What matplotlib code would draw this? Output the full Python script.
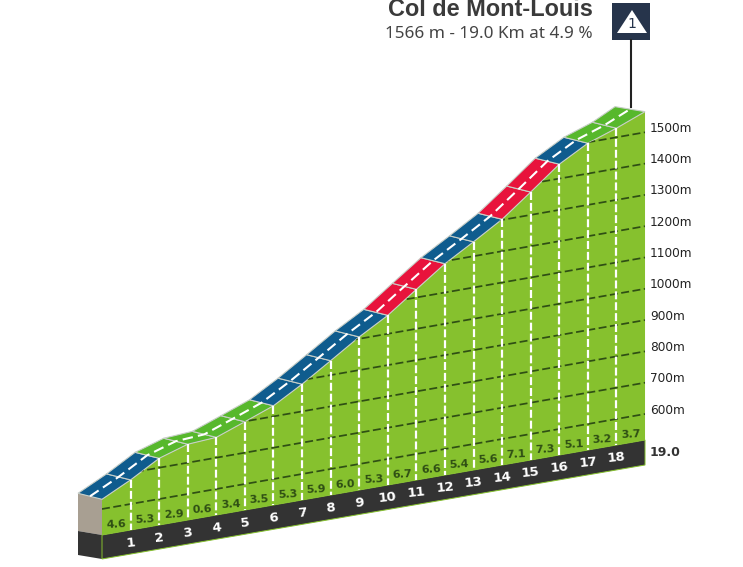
import numpy as np
import matplotlib.pyplot as plt
from matplotlib.patches import Polygon

km = np.arange(0, 20)
elev = [631, 677, 730, 759, 765, 799, 834, 887, 946, 1006, 1059, 1126, 1192, 1246, 1302, 1373, 1446, 1497, 1529, 1566]
grad = [4.6, 5.3, 2.9, 0.6, 3.4, 3.5, 5.3, 5.9, 6.0, 5.3, 6.7, 6.6, 5.4, 5.6, 7.1, 7.3, 5.1, 3.2, 3.7]
road_class = ['b', 'b', 'g', 'g', 'g', 'g', 'b', 'b', 'b', 'b', 'r', 'r', 'b', 'b', 'r', 'r', 'b', 'g', 'g']
grid_elev = [600, 700, 800, 900, 1000, 1100, 1200, 1300, 1400, 1500]
km_labels = list(range(1, 19))

road_col = {'b': '#0f5c8e', 'g': '#57b82c', 'r': '#e8133c'}
area_col = '#86c12e'
dark = '#333333'


def px(k):
    return 102 + 28.58 * np.asarray(k)


def base(k):
    return 535 - 5.0 * np.asarray(k)


def profile_y(k, e):
    return 509 - 5.0 * np.asarray(k) - (np.asarray(e) - 600) * 0.313


fig = plt.figure(figsize=(7.43, 5.67), dpi=100)
ax = fig.add_axes([0, 0, 1, 1])
ax.set_xlim(0, 743)
ax.set_ylim(567, 0)
ax.axis('off')

fx = px(km)
fy = profile_y(km, elev)
# back edge of the road, it opens up a bit at the summit
bx = fx - 24.0
by = fy - 6.0
bx[-1] = fx[-1] - 30
by[-1] = fy[-1] - 5

# left wall and the dark km band
ax.add_patch(Polygon([(fx[0], fy[0]), (bx[0], by[0]), (bx[0], base(0) - 4), (fx[0], base(0))],
                     fc='#a89f92', ec='none'))
ax.add_patch(Polygon([(fx[0], base(0)), (bx[0], base(0) - 4), (bx[0], base(0) + 20), (fx[0], base(0) + 24)],
                     fc=dark, ec='none'))
ax.add_patch(Polygon([(fx[0], base(0)), (fx[-1], base(19)), (fx[-1], base(19) + 25), (fx[0], base(0) + 24)],
                     fc=dark, ec=area_col, lw=0.7))

# green area
area = Polygon(list(zip(fx, fy)) + [(fx[-1], base(19)), (fx[0], base(0))], fc=area_col, ec='none')
ax.add_patch(area)

# altitude grid
for e in grid_elev:
    ln, = ax.plot(px([0, 19]), profile_y(np.array([0, 19]), e), color='#2f4f14', lw=1.25,
                  dashes=(4.6, 2))
    ln.set_clip_path(area)
    ax.text(650, profile_y(19, e) - 4, '%dm' % e, fontsize=8.7, color='#222222',
            va='center', ha='left', family='DejaVu Sans')

# km dashes
for k in km_labels:
    ax.plot([px(k), px(k)], [profile_y(k, elev[k]), base(k)], color='white', lw=1.6, dashes=(3.6, 1.3))

# road pieces
for i, c in enumerate(road_class):
    ax.add_patch(Polygon([(fx[i], fy[i]), (fx[i + 1], fy[i + 1]), (bx[i + 1], by[i + 1]), (bx[i], by[i])],
                         fc=road_col[c], ec='#c8cfc8', lw=0.8))
ax.plot((fx + bx) / 2, (fy + by) / 2, color='white', lw=1.5, dashes=(5, 2.5))

# gradient and km labels
for i, g in enumerate(grad):
    ax.text(px(i + 0.5), base(i + 0.5) - 8, '%.1f' % g, fontsize=8, fontweight='bold', color='#2f4f14',
            ha='center', va='center', rotation=3)
for k in km_labels:
    ax.text(px(k), base(k) + 13, str(k), fontsize=9.5, fontweight='bold', color='white',
            ha='center', va='center', rotation=6)

ax.text(650, 452, '19.0', fontsize=9, fontweight='bold', color='#333333', va='center', ha='left')

# summit sign
ax.plot([631, 631], [40, 107], color='#222222', lw=1.5)
ax.add_patch(Polygon([(612, 3), (650, 3), (650, 40), (612, 40)], fc='#26344b', ec='none'))
ax.add_patch(Polygon([(617, 33), (647, 33), (632, 10)], fc='white', ec='none'))
ax.text(632, 24, '1', fontsize=10, color='#26344b', ha='center', va='center')

ax.text(593, 10, 'Col de Mont-Louis', fontsize=16.9, fontweight='bold', color='#3a3a3a', ha='right', va='center',
        family='Liberation Sans')
ax.text(593, 34, '1566 m - 19.0 Km at 4.9 %', fontsize=12.3, color='#444444', ha='right', va='center',
        family='Noto Sans')

fig.savefig('out.png', dpi=100)
